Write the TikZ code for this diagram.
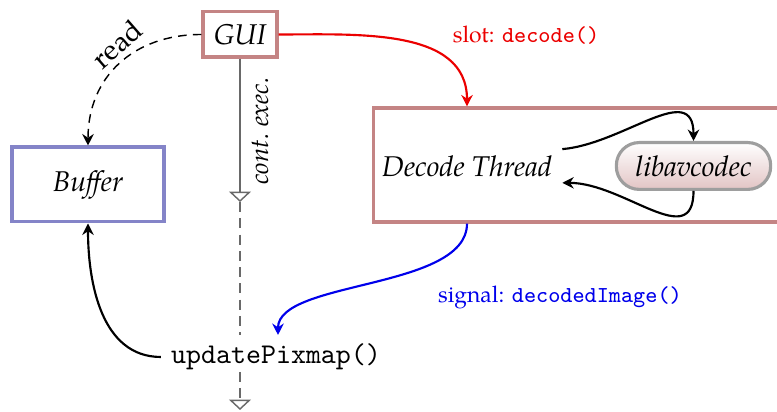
\documentclass[tikz,border=0pt]{standalone}
\usepackage{fontspec}
\setmainfont{TeX Gyre Pagella}
\usetikzlibrary{arrows.meta}

\definecolor{guiedge}{RGB}{196,132,132}
\definecolor{bufedge}{RGB}{132,132,200}
\definecolor{libedge}{RGB}{158,158,158}
\definecolor{libfill}{RGB}{226,196,196}
\definecolor{lifeline}{RGB}{105,105,105}
\definecolor{slotred}{RGB}{235,0,0}
\definecolor{sigblue}{RGB}{0,0,235}

\begin{document}
\begin{tikzpicture}[x=0.35pt,y=0.35pt,
  box/.style={draw, line width=1.1pt, inner sep=0pt, font=\itshape},
  lib/.style={draw=libedge, line width=1.1pt, rounded corners=8pt,
    top color=white, bottom color=libfill, inner sep=0pt,
    minimum width=54pt, minimum height=16.4pt, font=\itshape},
  flow/.style={line width=0.75pt, -{Stealth[length=4pt,width=4pt,inset=1.3pt]}},
  life/.style={draw=lifeline, line width=0.5pt},
  lifetip/.style={-{Triangle[open,length=3.6pt,width=7.6pt]}},
  lbl/.style={font=\footnotesize}]
\useasboundingbox (0,0) rectangle (777,412);
\clip (0,0) rectangle (777,412);

% nodes
\node[box, draw=guiedge, minimum width=25.9pt, minimum height=15.8pt] (gui) at (240,377.5) {GUI};
\node[box, draw=bufedge, minimum width=53.2pt, minimum height=26.2pt] (buf) at (88,227.5) {Buffer};
\node[box, draw=guiedge, minimum width=160pt, minimum height=39.9pt, anchor=west] (dt) at (372,247) {};
\node[font=\itshape] (dtl) at (467,246) {Decode Thread};
\node[lib] (lib) at (693.5,246) {libavcodec};
\node[font=\ttfamily] (upd) at (276,55) {updatePixmap()};

% lifeline of the GUI thread
\coordinate (t1) at (240,210);
\coordinate (t2) at (240,77);
\coordinate (t3) at (240,40);
\coordinate (t4) at (240,2);
\draw[life, lifetip] (gui.south) -- (t1);
\draw[life, dash pattern=on 3.5pt off 2.2pt] (t1) -- (t2);
\draw[life, dash pattern=on 3.5pt off 2.2pt, lifetip] (t3) -- (t4);
\node[font=\small\itshape, rotate=90] (ce) at (260,281) {cont.\ exec.};

% GUI reads the buffer
\draw[flow, line width=0.5pt, dash pattern=on 3pt off 2.2pt] (gui.west) to[out=180,in=90,looseness=1.1] (buf.north);
\node[rotate=41] (rd) at (117,368) {read};

% slot call into the decoder thread
\draw[flow, slotred] (gui.east) to[out=0,in=90] (dt.north -| dtl);
\node[lbl, text=slotred] (slot) at (526,377) {slot: \texttt{decode()}};

% decoder thread and libavcodec
\draw[flow] ([yshift=5.9pt]dtl.east) to[out=5,in=90,looseness=1.2] (lib.north);
\draw[flow] (lib.south) to[out=-90,in=0,looseness=1.2] ([yshift=-5.9pt]dtl.east);

% signal back to the GUI thread
\coordinate (sigend) at (278,77);
\draw[flow, sigblue] (dt.south -| dtl) .. controls (467,122) and (278,132) .. (sigend);
\node[lbl, text=sigblue] (sig) at (560,115) {signal: \texttt{decodedImage()}};

% pixmap update writes into the buffer
\draw[flow] (upd.west) to[out=180,in=-90] (buf.south);
\end{tikzpicture}
\end{document}
